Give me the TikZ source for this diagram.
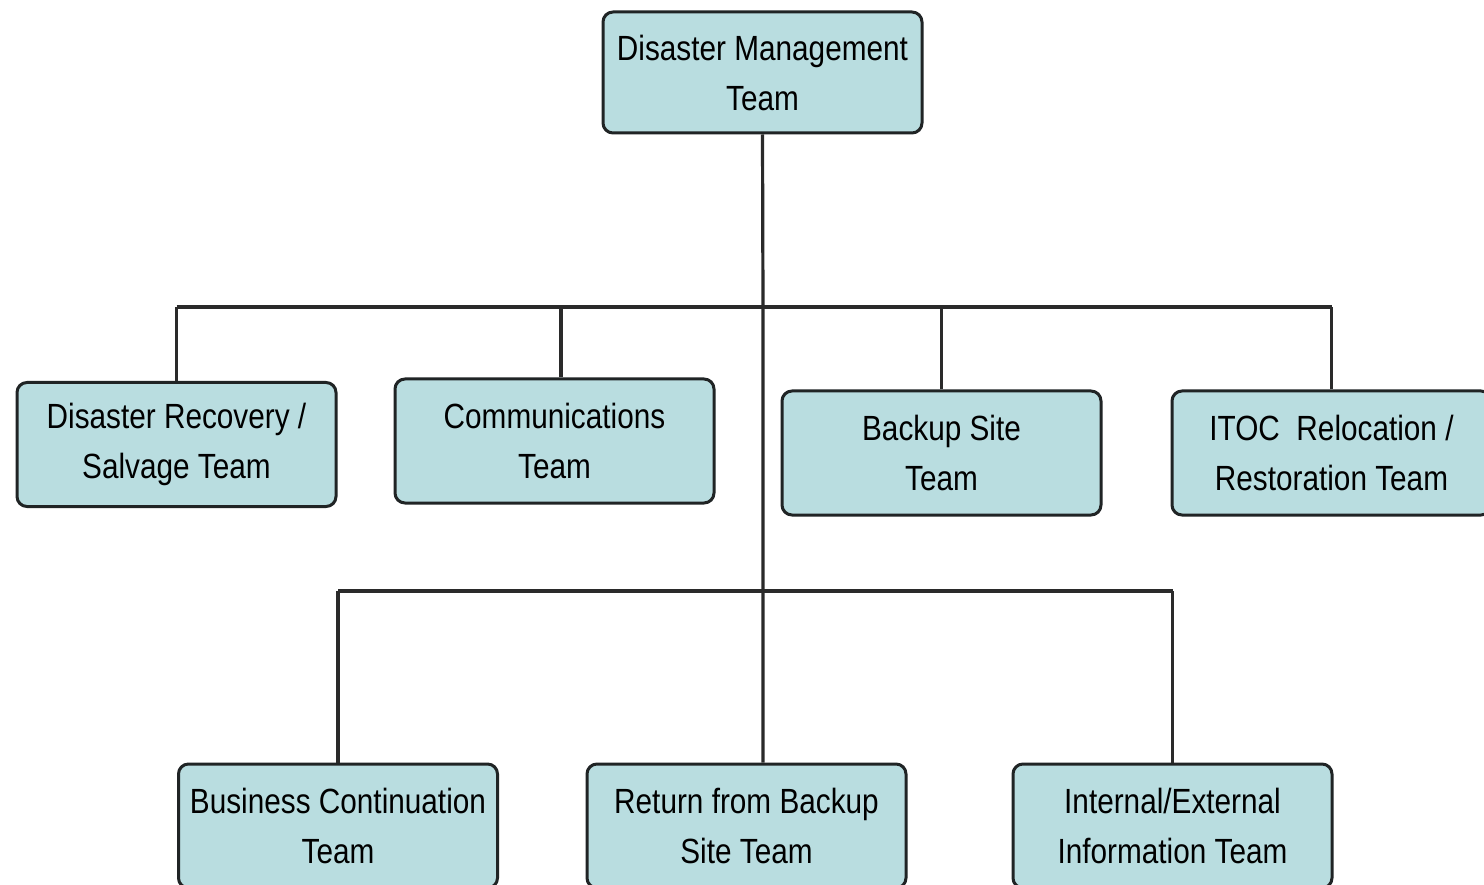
\documentclass[tikz,border=0pt]{standalone}
\usepackage{fontspec}
\setmainfont{Liberation Sans}[FakeStretch=0.85]
\definecolor{boxfill}{HTML}{B9DDE0}
\definecolor{boxline}{HTML}{202425}
\definecolor{lineclr}{HTML}{2A2A2A}
\begin{document}
\begin{tikzpicture}[x=1pt,y=-1pt,
  box/.style={draw=boxline, fill=boxfill, line width=3pt, rounded corners=10pt,
    minimum width=319pt, minimum height=124pt, align=center, inner sep=0pt,
    font=\fontsize{35}{50}\selectfont},
  conn/.style={draw=lineclr, line width=3.2pt}]
\clip (0,0) rectangle (1484,885);
\fill[white] (0,0) rectangle (1484,885);
% nodes
\node[box, minimum height=121pt] (top) at (762.5,72.5) {Disaster Management\\Team};
\node[box] (dr) at (176.5,444.5) {Disaster Recovery /\\Salvage Team};
\node[box] (comm) at (554.5,441) {Communications\\Team};
\node[box] (backup) at (941.5,453) {Backup Site\\Team};
\node[box] (itoc) at (1331.5,453) {ITOC\ \ Relocation /\\Restoration Team};
\node[box] (bc) at (338,826) {Business Continuation\\Team};
\node[box] (rb) at (746.5,826) {Return from Backup\\Site Team};
\node[box] (ie) at (1172.5,826) {Internal/External\\Information Team};
% junctions
\coordinate (j1) at (763,307);
\coordinate (j2) at (763,591);
% connectors
\draw[conn] (top.south) -- (j1) -- (j2) -- (j2 |- rb.north);
\draw[conn] (dr.north |- j1) -- (itoc.north |- j1);
\draw[conn] (dr.north) -- (dr.north |- j1);
\draw[conn] ([xshift=6.5pt]comm.north) -- ([xshift=6.5pt]comm.north |- j1);
\draw[conn] (backup.north) -- (backup.north |- j1);
\draw[conn] (itoc.north) -- (itoc.north |- j1);
\draw[conn] (bc.north |- j2) -- (ie.north |- j2);
\draw[conn] (bc.north) -- (bc.north |- j2);
\draw[conn] (ie.north) -- (ie.north |- j2);
\end{tikzpicture}
\end{document}
